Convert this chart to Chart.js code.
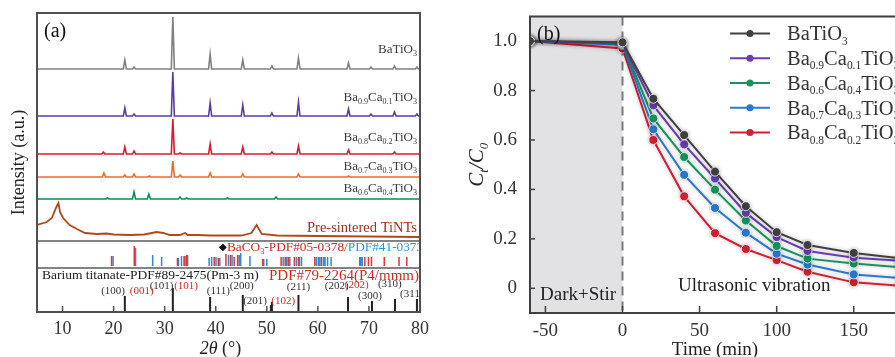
<!DOCTYPE html>
<html>
<head>
<meta charset="utf-8">
<script src="https://cdn.jsdelivr.net/npm/chart.js@4.4.1/dist/chart.umd.min.js"></script>
<style>
  html, body { margin: 0; padding: 0; background: #fff; overflow: hidden; width: 895px; height: 357px; }
  #xrdChart { position: absolute; left: 0; top: 0; }
  #degChart { position: absolute; left: 440px; top: 0; }
</style>
</head>
<body>
<canvas id="xrdChart" width="440" height="357"></canvas>
<canvas id="degChart" width="470" height="357"></canvas>
<script>
// ---------- (a) XRD data ----------
const xrdNames = ['BaTiO_{3}', 'Ba_{0.9}Ca_{0.1}TiO_{3}', 'Ba_{0.8}Ca_{0.2}TiO_{3}', 'Ba_{0.7}Ca_{0.3}TiO_{3}', 'Ba_{0.6}Ca_{0.4}TiO_{3}'];
const xrdOffsets = [243, 196, 158, 135, 113];
const labelLevels = [263, 215, 175, 146, 124, 85];

// [2theta, peak height]
const peaksBaTiO3 = [[22.2, 9], [24.0, 2], [31.6, 52], [38.9, 15], [45.3, 9], [51.0, 3], [56.2, 11], [66.0, 6], [70.4, 2], [75.0, 3], [79.4, 2]];
const peaksBa09 = [[22.2, 8], [24.0, 2], [31.6, 44], [38.9, 13], [45.3, 11], [51.0, 3], [56.2, 14], [66.0, 7], [70.4, 2], [75.0, 4], [79.4, 2]];
const peaksBa08 = [[18.0, 2], [22.2, 7], [24.0, 3], [31.6, 35], [33.0, 1], [38.9, 10], [45.3, 7], [51.0, 2], [56.2, 8], [66.0, 4], [75.0, 2]];
const peaksBa07 = [[18.1, 4], [22.2, 2], [24.0, 3], [27.0, 1], [31.6, 16], [33.0, 2], [38.9, 4], [45.3, 3], [56.2, 3], [66.0, 1]];
const peaksBa06 = [[18.8, 1], [24.0, 7], [26.9, 5], [33.0, 2], [34.3, 1], [42.3, 1], [51.8, 2]];
const xrdPeaks = [peaksBaTiO3, peaksBa09, peaksBa08, peaksBa07, peaksBa06];

const tintsName = 'Pre-sintered TiNTs';
const tintsScan = [[5, 87], [6.9, 90], [7.9, 94], [8.8, 105], [9.2, 109], [9.5, 100], [10.1, 94], [11.4, 87], [12.8, 83],
  [14.4, 79], [16.7, 78], [18.6, 78.5], [20, 77.5], [23.2, 77], [26, 77.5], [28.4, 80], [29.7, 79], [31, 77], [33, 77],
  [34, 79], [34.5, 77], [36.4, 77], [39, 76.5], [45, 76.5], [47, 79], [48, 87], [49, 78], [52, 76.5], [60, 76], [70, 75.5], [80, 75]];

// reference patterns [2theta, stick height]
const baco3Sticks = [[19.6, 10], [24.05, 20], [32.5, 8], [33.8, 10], [34.3, 11], [39.7, 9], [40.5, 8], [42.0, 12], [42.9, 11],
  [43.6, 9], [44.3, 11], [49.2, 7], [52.8, 9], [53.6, 9], [54.2, 9], [55.4, 9], [56.2, 9], [59.4, 9], [60.7, 9],
  [69.2, 9], [69.9, 9], [70.5, 9], [73.0, 9], [75.9, 9], [77.4, 9]];
const pdf41Sticks = [[19.9, 10], [24.3, 18], [27.65, 11], [29.4, 9], [32.7, 8], [33.3, 10], [34.0, 10], [34.5, 11], [38.7, 8],
  [39.2, 9], [40.05, 9], [40.8, 8], [42.5, 11], [43.2, 11], [44.6, 11], [44.9, 13], [46.7, 10], [49.4, 7], [50.0, 7],
  [53.2, 9], [53.9, 9], [54.5, 9], [55.8, 9], [56.4, 9], [56.8, 9], [59.7, 9], [60.1, 9], [60.4, 9], [61.1, 9], [61.4, 9],
  [61.9, 9], [62.6, 9], [68.2, 9], [68.4, 9], [68.7, 9]];
const batio3Sticks = [[22.2, 16], [31.6, 24], [38.9, 15], [45.3, 17], [50.8, 7], [51.0, 10], [56.2, 17], [65.9, 15],
  [70.6, 11], [75.1, 13], [79.4, 13]];
const stickBase = 46;
const bandEdges = [71, 44];

// hkl labels [text, 2theta, level]
const cubicHkl = [['(100)', 19.9, 22], ['(101)', 29.4, 27], ['(111)', 40.5, 22], ['(200)', 45.1, 27], ['(201)', 47.7, 12],
  ['(211)', 56.2, 26], ['(202)', 63.7, 27], ['(300)', 70.2, 17], ['(310)', 74.1, 29], ['(311)', 78.4, 19]];
const tetraHkl = [['(001)', 25.5, 22], ['(101)', 34.2, 27], ['(102)', 53.2, 12], ['(202)', 67.6, 28]];

const xTicksA = [10, 20, 30, 40, 50, 60, 70, 80];

// ---------- (b) degradation data ----------
const timeMin = [-60, 0, 20, 40, 60, 80, 100, 120, 150, 180];
const degNames = ['BaTiO_{3}', 'Ba_{0.9}Ca_{0.1}TiO_{3}', 'Ba_{0.6}Ca_{0.4}TiO_{3}', 'Ba_{0.7}Ca_{0.3}TiO_{3}', 'Ba_{0.8}Ca_{0.2}TiO_{3}'];
const ctBaTiO3 = [1.0, 0.995, 0.767, 0.62, 0.472, 0.332, 0.227, 0.175, 0.143, 0.121];
const ctBa09 = [1.0, 0.99, 0.74, 0.582, 0.444, 0.305, 0.207, 0.151, 0.124, 0.111];
const ctBa06 = [1.0, 0.99, 0.687, 0.531, 0.399, 0.274, 0.171, 0.12, 0.10, 0.085];
const ctBa07 = [1.0, 0.985, 0.643, 0.459, 0.325, 0.225, 0.14, 0.096, 0.056, 0.042];
const ctBa08 = [1.0, 0.97, 0.60, 0.372, 0.223, 0.159, 0.114, 0.067, 0.024, 0.010];
const degSeries = [ctBaTiO3, ctBa09, ctBa06, ctBa07, ctBa08];
const xTicksB = [-50, 0, 50, 100, 150];
const yTicksB = [0, 0.2, 0.4, 0.6, 0.8, 1.0];

const FONT = '"Liberation Serif", "Times New Roman", serif';
const xrdColors = ['#808080', '#5b3aa6', '#d71d2c', '#f26a20', '#17894a'];
const tintsColor = '#b4461c';
const degColors = ['#404040', '#6a3cb0', '#14955c', '#2a78cf', '#d41f32'];

// text with _{subscript} parts
function drawFormula(ctx, str, x, y, size, align, color, italic, subRatio) {
  const sr = subRatio || 0.62;
  const parts = str.split(/(_\{[^}]*\})/).filter(Boolean).map(p =>
    p.startsWith('_{') ? { t: p.slice(2, -1), sub: true } : { t: p, sub: false });
  const fontOf = p => (italic ? 'italic ' : '') + (p.sub ? size * sr : size) + 'px ' + FONT;
  let w = 0;
  parts.forEach(p => { ctx.font = fontOf(p); p.w = ctx.measureText(p.t).width; w += p.w; });
  let cx = align === 'right' ? x - w : align === 'center' ? x - w / 2 : x;
  ctx.fillStyle = color;
  ctx.textAlign = 'left';
  ctx.textBaseline = 'alphabetic';
  const base = y + size * 0.33;
  parts.forEach(p => {
    ctx.font = fontOf(p);
    ctx.fillText(p.t, cx, p.sub ? base + size * 0.22 : base);
    cx += p.w;
  });
  return w;
}

function spectrum(offset, peaks) {
  const pts = [{ x: 5, y: offset }];
  peaks.forEach(([p, h]) => {
    pts.push({ x: p - 0.3, y: offset }, { x: p, y: offset + h }, { x: p + 0.3, y: offset });
  });
  pts.push({ x: 80, y: offset });
  return pts;
}

function sticks(list, base) {
  const pts = [];
  list.forEach(([p, h]) => { pts.push({ x: p, y: base }, { x: p, y: base + h }, { x: p, y: null }); });
  return pts;
}

// ---------- (a) ----------
const xrdDatasets = xrdPeaks.map((pk, i) => ({
  data: spectrum(xrdOffsets[i], pk), borderColor: xrdColors[i], borderWidth: 1.6, pointRadius: 0
}));
xrdDatasets.push({ data: tintsScan.map(([x, y]) => ({ x, y })), borderColor: tintsColor, borderWidth: 1.8, pointRadius: 0 });
xrdDatasets.push({ data: sticks(baco3Sticks, stickBase), borderColor: '#e8332f', borderWidth: 1.5, pointRadius: 0, spanGaps: false });
xrdDatasets.push({ data: sticks(pdf41Sticks, stickBase), borderColor: '#2f8ad8', borderWidth: 1.5, pointRadius: 0, spanGaps: false });
xrdDatasets.push({ data: sticks(batio3Sticks, 0), borderColor: '#222', borderWidth: 2, pointRadius: 0, spanGaps: false });

const xrdDecor = {
  id: 'xrdDecor',
  afterDatasetsDraw(chart) {
    const { ctx, chartArea: a, scales: { x, y } } = chart;
    ctx.save();
    ctx.strokeStyle = '#5a5a5a';
    ctx.lineWidth = 1.5;
    bandEdges.forEach(v => {
      const py = y.getPixelForValue(v);
      ctx.beginPath(); ctx.moveTo(a.left, py); ctx.lineTo(a.right, py); ctx.stroke();
    });
    ctx.beginPath();
    ctx.rect(a.left, a.top, a.right - a.left, a.bottom - a.top);
    ctx.clip();
    xrdNames.forEach((n, i) => drawFormula(ctx, n, a.right - 3, y.getPixelForValue(labelLevels[i]), 13, 'right', '#3a3a3a'));
    drawFormula(ctx, tintsName, a.right - 3, y.getPixelForValue(labelLevels[5]), 14.5, 'right', '#b02a18');
    cubicHkl.forEach(([t, p, v]) => drawFormula(ctx, t, x.getPixelForValue(p), y.getPixelForValue(v), 11, 'center', '#333'));
    tetraHkl.forEach(([t, p, v]) => drawFormula(ctx, t, x.getPixelForValue(p), y.getPixelForValue(v), 11, 'center', '#d42a1e'));
    // reference card captions
    const cy = y.getPixelForValue(65);
    ctx.fillStyle = '#111';
    ctx.font = '10px ' + FONT;
    ctx.textAlign = 'center'; ctx.textBaseline = 'middle';
    ctx.fillText('\u25C6', x.getPixelForValue(41.4), cy);
    let cx = x.getPixelForValue(42.2);
    cx += drawFormula(ctx, 'BaCO_{3}-PDF#05-0378/', cx, cy, 13.3, 'left', '#d42a1e');
    drawFormula(ctx, 'PDF#41-0373', cx, cy, 13.3, 'left', '#1e9be0');
    drawFormula(ctx, 'Barium titanate-PDF#89-2475(Pm-3 m)', a.left + 5, y.getPixelForValue(37), 13.5, 'left', '#222');
    drawFormula(ctx, 'PDF#79-2264(P4/mmm)', a.right - 1, y.getPixelForValue(37), 15, 'right', '#d42a1e');
    drawFormula(ctx, '(a)', a.left + 7, a.top + 17, 20, 'left', '#111');
    ctx.restore();

    // frame and inward ticks
    ctx.save();
    ctx.strokeStyle = '#505050';
    ctx.lineWidth = 2;
    ctx.strokeRect(a.left, a.top, a.right - a.left, a.bottom - a.top);
    ctx.lineWidth = 1.5;
    x.ticks.forEach(t => {
      const px = x.getPixelForValue(t.value);
      ctx.beginPath(); ctx.moveTo(px, a.bottom); ctx.lineTo(px, a.bottom - 6); ctx.stroke();
    });
    // axis titles
    ctx.translate(18, (a.top + a.bottom) / 2);
    ctx.rotate(-Math.PI / 2);
    drawFormula(ctx, 'Intensity (a.u.)', 0, 0, 18, 'center', '#222');
    ctx.restore();
    ctx.save();
    ctx.fillStyle = '#222';
    ctx.textBaseline = 'middle';
    ctx.font = 'italic 18px ' + FONT;
    const w1 = ctx.measureText('2\u03B8').width;
    ctx.font = '18px ' + FONT;
    const w2 = ctx.measureText(' (\u00B0)').width;
    const sx = (a.left + a.right) / 2 - 8 - (w1 + w2) / 2;
    ctx.textAlign = 'left';
    ctx.font = 'italic 18px ' + FONT;
    ctx.fillText('2\u03B8', sx, 349);
    ctx.font = '18px ' + FONT;
    ctx.fillText(' (\u00B0)', sx + w1, 349);
    ctx.restore();
  }
};

new Chart(document.getElementById('xrdChart'), {
  type: 'line',
  data: { datasets: xrdDatasets },
  options: {
    responsive: false,
    animation: false,
    layout: { padding: { left: 37, right: 20, top: 13, bottom: 0 } },
    plugins: { legend: { display: false }, tooltip: { enabled: false } },
    scales: {
      x: {
        type: 'linear', min: 5, max: 80,
        grid: { display: false }, border: { display: false },
        afterBuildTicks: s => { s.ticks = xTicksA.map(v => ({ value: v })); },
        afterFit: s => { s.height = 45; },
        ticks: { font: { family: FONT, size: 18 }, color: '#333', padding: -2, maxRotation: 0 }
      },
      y: { display: false, min: 0, max: 299 }
    }
  },
  plugins: [xrdDecor]
});

// ---------- (b) ----------
const degDecor = {
  id: 'degDecor',
  beforeDatasetsDraw(chart) {
    const { ctx, chartArea: a, scales: { x } } = chart;
    const x0 = x.getPixelForValue(0);
    ctx.save();
    ctx.fillStyle = '#e2e2e4';
    ctx.fillRect(a.left, a.top, x0 - a.left, a.bottom - a.top);
    ctx.strokeStyle = '#7a7a7a';
    ctx.lineWidth = 2;
    ctx.setLineDash([9, 6]);
    ctx.beginPath(); ctx.moveTo(x0, a.top); ctx.lineTo(x0, a.bottom); ctx.stroke();
    ctx.restore();
  },
  beforeDatasetDraw(chart) {
    chart.ctx.save();
    chart.ctx.shadowColor = 'rgba(0,0,0,0.25)';
    chart.ctx.shadowBlur = 4;
  },
  afterDatasetDraw(chart) {
    chart.ctx.restore();
  },
  afterDatasetsDraw(chart) {
    const { ctx, chartArea: a, scales: { x, y } } = chart;
    ctx.save();
    drawFormula(ctx, 'Dark+Stir', x.getPixelForValue(-53.5), y.getPixelForValue(-0.023), 19, 'left', '#222');
    drawFormula(ctx, 'Ultrasonic vibration', x.getPixelForValue(36), y.getPixelForValue(0.013), 19, 'left', '#222');
    drawFormula(ctx, '(b)', a.left + 7, y.getPixelForValue(1.03), 20, 'left', '#111');
    // legend
    chart.data.datasets.forEach((ds, i) => {
      const ly = a.top + 17 + i * 24.8;
      const lx = a.left + 200;
      ctx.strokeStyle = ds.borderColor;
      ctx.lineWidth = 2;
      ctx.beginPath(); ctx.moveTo(lx, ly); ctx.lineTo(lx + 40, ly); ctx.stroke();
      ctx.fillStyle = ds.borderColor;
      ctx.beginPath(); ctx.arc(lx + 20, ly, 3.5, 0, Math.PI * 2); ctx.fill();
      drawFormula(ctx, degNames[i], lx + 57, ly, 20.5, 'left', '#333', false, 0.56);
    });
    // axes frame
    ctx.strokeStyle = '#404040';
    ctx.lineWidth = 2;
    ctx.beginPath();
    ctx.moveTo(a.right + 20, a.top); ctx.lineTo(a.left, a.top); ctx.lineTo(a.left, a.bottom); ctx.lineTo(a.right + 20, a.bottom);
    ctx.stroke();
    ctx.lineWidth = 1.5;
    x.ticks.forEach(t => {
      const px = x.getPixelForValue(t.value);
      ctx.beginPath(); ctx.moveTo(px, a.bottom); ctx.lineTo(px, a.bottom - 7); ctx.stroke();
    });
    y.ticks.forEach(t => {
      const py = y.getPixelForValue(t.value);
      ctx.beginPath(); ctx.moveTo(a.left, py); ctx.lineTo(a.left + 5, py); ctx.stroke();
    });
    drawFormula(ctx, 'Time (min)', (a.left + a.right) / 2, 349, 19, 'center', '#222');
    ctx.translate(36, (a.top + a.bottom) / 2);
    ctx.rotate(-Math.PI / 2);
    drawFormula(ctx, 'C_{t}/C_{0}', 0, 0, 21, 'center', '#222', true);
    ctx.restore();
  }
};

new Chart(document.getElementById('degChart'), {
  type: 'line',
  data: {
    datasets: degSeries.map((vals, i) => ({
      label: degNames[i],
      data: vals.map((v, k) => ({ x: timeMin[k], y: v })),
      borderColor: degColors[i],
      backgroundColor: degColors[i],
      pointBackgroundColor: degColors[i],
      pointBorderColor: '#ffffff',
      pointBorderWidth: 0.8,
      pointRadius: 4.5,
      borderWidth: 2
    }))
  },
  options: {
    responsive: false,
    animation: false,
    layout: { padding: { left: 0, right: 10, top: 15, bottom: 0 } },
    plugins: { legend: { display: false }, tooltip: { enabled: false } },
    scales: {
      x: {
        type: 'linear', min: -60, max: 180,
        grid: { display: false }, border: { display: false },
        afterBuildTicks: s => { s.ticks = xTicksB.map(v => ({ value: v })); },
        afterFit: s => { s.height = 44; },
        ticks: { font: { family: FONT, size: 19 }, color: '#333', padding: -1, maxRotation: 0 }
      },
      y: {
        min: -0.1, max: 1.1,
        grid: { display: false }, border: { display: false },
        afterBuildTicks: s => { s.ticks = yTicksB.map(v => ({ value: v })); },
        afterFit: s => { s.width = 90; },
        ticks: { font: { family: FONT, size: 19 }, color: '#333', padding: 5,
          callback: v => (v === 0 ? '0' : v.toFixed(1)) }
      }
    }
  },
  plugins: [degDecor]
});
</script>
</body>
</html>
